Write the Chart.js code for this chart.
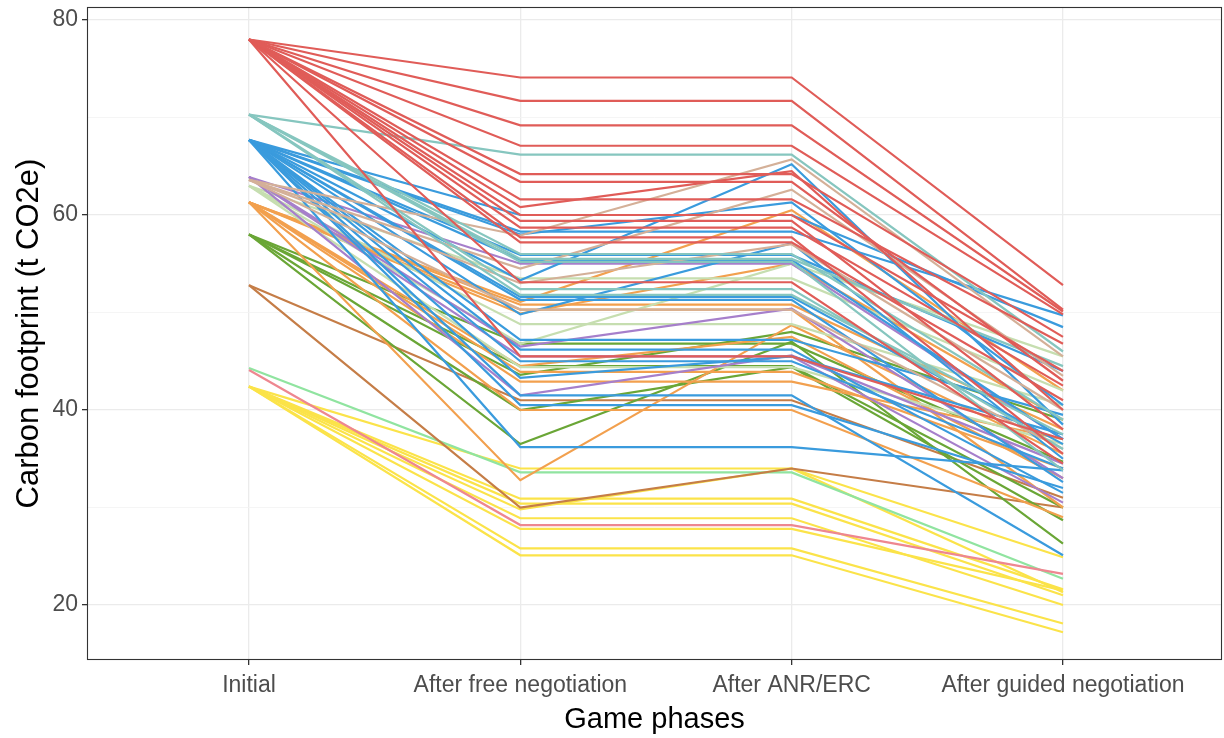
<!DOCTYPE html>
<html>
<head>
<meta charset="utf-8">
<script src="https://cdn.jsdelivr.net/npm/chart.js@4/dist/chart.umd.min.js"></script>
<style>
  html, body { margin: 0; padding: 0; background: #fff; }
  #wrap { width: 1224px; height: 738px; }
</style>
</head>
<body>
<div id="wrap"><canvas id="chart"></canvas></div>
<script>
// game phases (x axis)
var phases = ["Initial", "After free negotiation", "After ANR/ERC", "After guided negotiation"];
var yTicks = [20, 30, 40, 50, 60, 70, 80];

// one row per participant: footprint at each phase (t CO2e), grouped by profile colour
var redLines = [
  [78, 74.1, 74.1, 52.8], [78, 71.7, 71.7, 50.3], [78, 69.2, 69.2, 50.1],
  [78, 67.1, 67.1, 49.8], [78, 64.2, 64.2, 47.5], [78, 63.4, 63.4, 43.0],
  [78, 61.6, 61.6, 46.8], [78, 60.8, 64.5, 40.0], [78, 60.0, 60.0, 44.0],
  [78, 59.4, 59.4, 38.0], [78, 58.7, 58.7, 42.5], [78, 57.7, 57.7, 35.5],
  [78, 57.2, 57.2, 41.0], [78, 53.1, 53.1, 34.5], [78, 45.5, 45.5, 37.0]
];
var tealLines = [
  [70.3, 66.2, 66.2, 46.0], [70.3, 56.0, 56.0, 39.0], [70.3, 55.5, 55.5, 44.5],
  [70.3, 52.4, 52.4, 36.0], [70.3, 51.8, 51.8, 37.5], [70.3, 55.2, 55.2, 33.8]
];
var blueLines = [
  [67.7, 60.0, 60.0, 48.5], [67.7, 58.3, 58.3, 49.7], [67.7, 58.0, 61.3, 40.5],
  [67.7, 55.9, 55.9, 44.0], [67.7, 55.4, 55.4, 37.0], [67.7, 53.3, 65.2, 38.5],
  [67.7, 51.6, 51.6, 36.5], [67.7, 51.3, 51.3, 32.6], [67.7, 49.8, 57.1, 35.0],
  [67.7, 47.2, 47.2, 39.5], [67.7, 46.2, 46.2, 31.5], [67.7, 45.0, 45.0, 34.0],
  [67.7, 43.3, 45.5, 37.5], [67.7, 41.5, 41.5, 25.1], [67.7, 40.5, 40.5, 32.0],
  [67.7, 36.2, 36.2, 33.8]
];
var purpleLines = [
  [63.9, 55.0, 55.0, 37.0], [63.9, 46.5, 50.4, 33.0], [63.9, 41.5, 45.6, 34.5],
  [63.9, 45.5, 45.5, 30.5]
];
var tanLines = [
  [63.6, 57.9, 65.7, 45.5], [63.6, 54.5, 62.6, 43.5], [63.6, 53.0, 57.0, 40.0],
  [63.6, 50.3, 50.3, 36.0]
];
var paleGreenLines = [
  [63.0, 46.8, 55.0, 45.5], [63.0, 48.8, 48.8, 40.5], [63.0, 44.4, 44.4, 36.5],
  [63.0, 53.5, 53.5, 42.0]
];
var orangeLines = [
  [61.3, 51.1, 60.5, 42.0], [61.3, 50.8, 50.8, 38.0], [61.3, 49.9, 55.0, 39.0],
  [61.3, 43.9, 43.9, 34.0], [61.3, 42.9, 42.9, 37.0], [61.3, 40.0, 40.0, 29.0],
  [61.3, 32.8, 48.7, 35.5], [61.3, 50.3, 50.3, 30.0], [61.3, 44.5, 47.5, 33.0]
];
var greenLines = [
  [58.0, 43.6, 48.0, 39.0], [58.0, 40.0, 44.4, 28.7], [58.0, 36.5, 47.0, 26.3],
  [58.0, 46.8, 46.8, 34.7], [58.0, 44.5, 44.5, 30.0]
];
var brownLines = [
  [52.8, 41.0, 41.0, 31.0], [52.8, 30.0, 34.0, 30.0]
];
var mintLines = [
  [44.3, 33.6, 33.6, 22.7]
];
var pinkLines = [
  [44.1, 28.2, 28.2, 23.2]
];
var yellowLines = [
  [42.4, 34.0, 34.0, 24.9], [42.4, 30.9, 30.9, 21.6], [42.4, 30.4, 30.4, 21.0],
  [42.4, 29.8, 34.0, 21.3], [42.4, 28.9, 28.9, 20.0], [42.4, 27.8, 27.8, 21.5],
  [42.4, 25.8, 25.8, 18.1], [42.4, 25.1, 25.1, 17.2]
];

// drawing order: first group ends up on top
var groups = [
  { lines: redLines, color: "#e05c58" },
  { lines: tealLines, color: "#86c6bf" },
  { lines: tanLines, color: "#d4b098" },
  { lines: blueLines, color: "#3a9bdd" },
  { lines: purpleLines, color: "#a67fcb" },
  { lines: paleGreenLines, color: "#c6deb0" },
  { lines: orangeLines, color: "#f2a04e" },
  { lines: greenLines, color: "#6aa636" },
  { lines: brownLines, color: "#c57d47" },
  { lines: pinkLines, color: "#ee8790" },
  { lines: mintLines, color: "#90e4a0" },
  { lines: yellowLines, color: "#fbe349" }
];

var datasets = [];
groups.forEach(function (g) {
  g.lines.forEach(function (row) {
    datasets.push({
      data: row.map(function (v, i) { return { x: i, y: v }; }),
      borderColor: g.color,
      borderWidth: 2.2,
      pointRadius: 0,
      tension: 0,
      fill: false
    });
  });
});

var panelBorder = {
  id: "panelBorder",
  afterDraw: function (chart) {
    var a = chart.chartArea, ctx = chart.ctx;
    ctx.save();
    ctx.strokeStyle = "#333333";
    ctx.lineWidth = 1.1;
    ctx.strokeRect(a.left + 0.5, a.top + 0.5, a.right - a.left - 1, a.bottom - a.top - 1);
    ctx.restore();
  }
};

new Chart(document.getElementById("chart"), {
  type: "line",
  data: { datasets: datasets },
  plugins: [panelBorder],
  options: {
    responsive: true,
    maintainAspectRatio: false,
    animation: false,
    layout: { padding: { top: 7, right: 2, left: 0, bottom: 0 } },
    plugins: { legend: { display: false }, tooltip: { enabled: false } },
    scales: {
      x: {
        type: "linear",
        min: -0.597,
        max: 3.586,
        afterBuildTicks: function (s) { s.ticks = [0, 1, 2, 3].map(function (v) { return { value: v }; }); },
        afterFit: function (s) { s.height = 78; s.paddingLeft = 0; s.paddingRight = 0; },
        ticks: {
          autoSkip: false,
          maxRotation: 0,
          padding: 7,
          color: "#4d4d4d",
          font: { family: "Liberation Sans, Arial, sans-serif", size: 23 },
          callback: function (v) { return phases[v]; }
        },
        grid: { color: "#ebebeb", lineWidth: 1.3, tickLength: 5, tickColor: "#333333", tickWidth: 1.3 },
        border: { display: false },
        title: {
          display: true,
          text: "Game phases",
          color: "#000000",
          padding: { top: 0, bottom: 1 },
          font: { family: "Liberation Sans, Arial, sans-serif", size: 29 }
        }
      },
      y: {
        min: 14.36,
        max: 81.33,
        afterBuildTicks: function (s) { s.ticks = yTicks.map(function (v) { return { value: v }; }); },
        afterFit: function (s) { s.width = 87; s.paddingTop = 0; s.paddingBottom = 0; },
        ticks: {
          padding: 4,
          color: "#4d4d4d",
          font: { family: "Liberation Sans, Arial, sans-serif", size: 23 },
          callback: function (v) { return v % 20 === 0 ? v : ""; }
        },
        grid: {
          color: function (c) { return c.tick && c.tick.value % 20 === 0 ? "#ebebeb" : "#f3f3f3"; },
          lineWidth: function (c) { return c.tick && c.tick.value % 20 === 0 ? 1.3 : 0.8; },
          tickLength: 5,
          tickColor: function (c) { return c.tick && c.tick.value % 20 === 0 ? "#333333" : "rgba(0,0,0,0)"; },
          tickWidth: 1.3
        },
        border: { display: false },
        title: {
          display: true,
          text: "Carbon footprint (t CO2e)",
          color: "#000000",
          padding: { top: 11, bottom: 0 },
          font: { family: "Liberation Sans, Arial, sans-serif", size: 31 }
        }
      }
    }
  }
});
</script>
</body>
</html>
